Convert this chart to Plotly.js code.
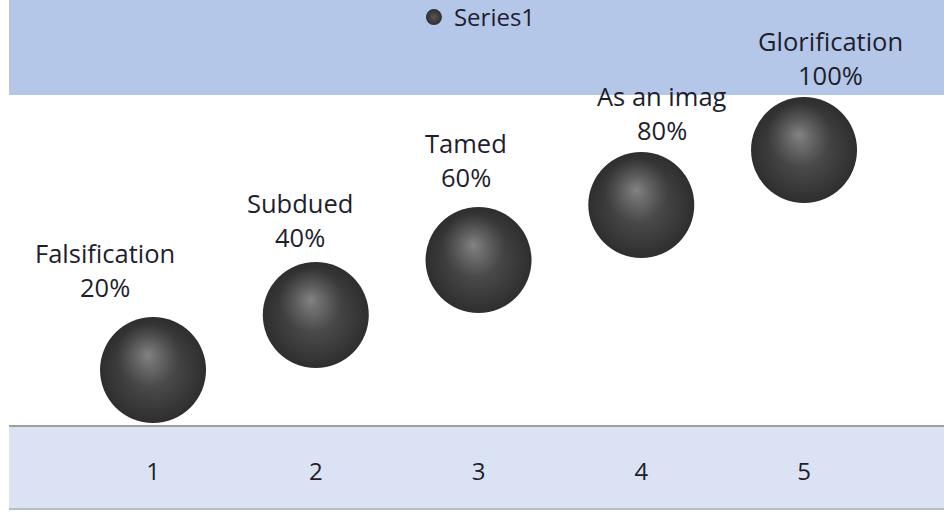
<!DOCTYPE html>
<html>
<head>
<meta charset="utf-8">
<script src="https://cdn.plot.ly/plotly-3.0.1.min.js"></script>
<style>
  html, body { margin: 0; padding: 0; background: #ffffff; }
  #chart { width: 944px; height: 512px; }
</style>
</head>
<body>
<div id="chart"></div>
<script>
// Stages of the series, one sphere per stage
const categories = [1, 2, 3, 4, 5];
const stageNames = ['Falsification', 'Subdued', 'Tamed', 'As an imag', 'Glorification'];
const seriesValues = [20, 40, 60, 80, 100];
const tickLabels = ['1', '2', '3', '4', '5'];

// label offsets in pixels relative to each sphere (layout only)
const labelDx = [-48, -16, -13, 21, 26];
const labelDy = [83, 78, 83, 75, 75];

const textColor = '#1e1e2c';
const font = '"Open Sans", sans-serif';

// base sphere
const spheres = {
  type: 'scatter',
  mode: 'markers',
  name: 'Series1',
  x: categories,
  y: seriesValues,
  marker: {
    size: 106,
    color: '#2e2e2e',
    gradient: { type: 'radial', color: '#575757' },
    line: { width: 0 }
  },
  hoverinfo: 'x+y',
  showlegend: true
};

// soft highlight drawn on slightly offset axes so it sits up and left
const highlight = {
  type: 'scatter',
  mode: 'markers',
  x: categories,
  y: seriesValues,
  xaxis: 'x2',
  yaxis: 'y2',
  marker: {
    size: 64,
    color: 'rgba(110,110,110,0)',
    gradient: { type: 'radial', color: 'rgba(150,150,150,0.75)' },
    line: { width: 0 }
  },
  hoverinfo: 'skip',
  showlegend: false
};

const annotations = [];
categories.forEach((c, i) => {
  annotations.push({
    xref: 'x', yref: 'y', x: c, y: seriesValues[i],
    text: stageNames[i], showarrow: false,
    xshift: labelDx[i], yshift: labelDy[i] + 34,
    font: { family: font, size: 25.5, color: textColor }
  });
  annotations.push({
    xref: 'x', yref: 'y', x: c, y: seriesValues[i],
    text: seriesValues[i] + '%', showarrow: false,
    xshift: labelDx[i], yshift: labelDy[i],
    font: { family: font, size: 25.5, color: textColor }
  });
});

const plotW = 935, plotH = 330, topBand = 95, bottomBand = 85;
const xRange = [0.115, 5.86];
const yRange = [0, 120];
const pxPerY = plotH / (yRange[1] - yRange[0]);
const pxPerX = plotW / (xRange[1] - xRange[0]);
const hiUp = 15 / pxPerY;
const hiLeft = 5 / pxPerX;

const layout = {
  width: 944,
  height: 512,
  margin: { l: 9, r: 0, t: topBand, b: 87, autoexpand: false },
  paper_bgcolor: '#ffffff',
  plot_bgcolor: '#ffffff',
  showlegend: true,
  legend: {
    orientation: 'h',
    x: 0.501, xanchor: 'center',
    y: 1 + (topBand + 5) / plotH, yanchor: 'top',
    bgcolor: 'rgba(0,0,0,0)',
    font: { family: font, size: 24, color: textColor }
  },
  xaxis: {
    range: xRange,
    tickvals: categories,
    ticktext: tickLabels,
    ticks: '',
    showgrid: false,
    zeroline: false,
    showline: true,
    linecolor: '#a0a0a0',
    linewidth: 2,
    ticklabelstandoff: 24,
    tickfont: { family: font, size: 24, color: textColor },
    fixedrange: true
  },
  yaxis: {
    range: yRange,
    showticklabels: false,
    ticks: '',
    showgrid: false,
    zeroline: false,
    showline: false,
    fixedrange: true
  },
  xaxis2: {
    overlaying: 'x',
    range: [xRange[0] + hiLeft, xRange[1] + hiLeft],
    visible: false
  },
  yaxis2: {
    overlaying: 'y',
    range: [yRange[0] - hiUp, yRange[1] - hiUp],
    visible: false
  },
  shapes: [
    {
      // header band
      type: 'rect', xref: 'paper', yref: 'paper', layer: 'below',
      x0: 0, x1: 1, y0: 1, y1: 1 + topBand / plotH,
      fillcolor: '#b4c7e9',
      line: { width: 0 }
    },
    {
      // category band
      type: 'rect', xref: 'paper', yref: 'paper', layer: 'below',
      x0: 0, x1: 1, y0: -bottomBand / plotH, y1: 0,
      fillcolor: '#dbe2f3',
      line: { width: 0 }
    },
    {
      type: 'line', xref: 'paper', yref: 'paper',
      x0: 0, x1: 1, y0: -(bottomBand - 1) / plotH, y1: -(bottomBand - 1) / plotH,
      line: { color: '#b8bcc8', width: 2 }
    }
  ],
  annotations: annotations
};

Plotly.newPlot('chart', [spheres, highlight], layout, { displayModeBar: false, staticPlot: true });
</script>
</body>
</html>
